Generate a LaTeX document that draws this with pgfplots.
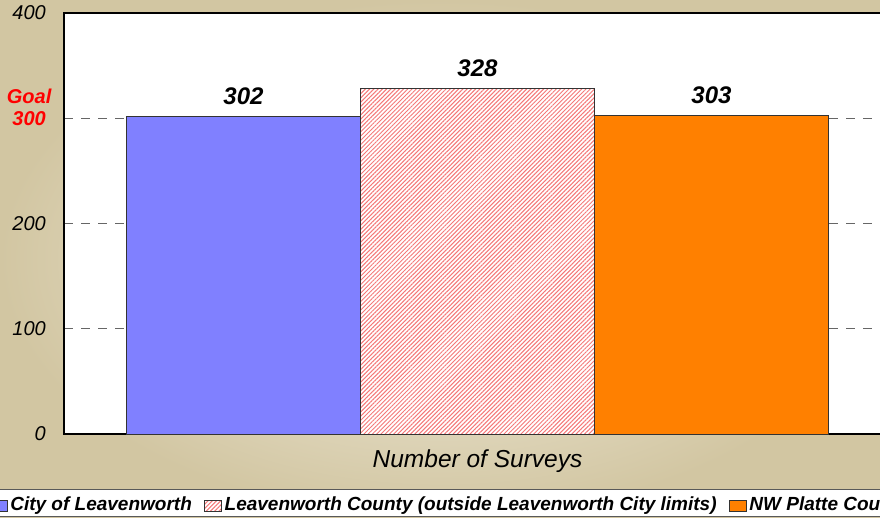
\documentclass[border=0pt]{standalone}
\usepackage{pgfplots}
\pgfplotsset{compat=1.18}
\usepackage{fontspec}
\setmainfont{Liberation Sans}
\usetikzlibrary{patterns.meta}
\definecolor{bgdark}{RGB}{210,198,162}
\definecolor{bglight}{RGB}{244,240,227}
\definecolor{barblue}{RGB}{128,128,255}
\definecolor{barorange}{RGB}{255,128,0}
\definecolor{hatchred}{RGB}{245,120,120}
\begin{document}
\begin{tikzpicture}
\useasboundingbox (0,0) rectangle (880pt,518pt);
\clip (0,0) rectangle (880pt,518pt);
\shade[inner color=bglight, outer color=bgdark] (0,0) rectangle (880pt,518pt);
\begin{axis}[
  at={(64pt,84pt)}, anchor=south west,
  width=827pt, height=421pt, scale only axis,
  xmin=0.233, xmax=3.767, ymin=0, ymax=400,
  axis background/.style={fill=white},
  axis line style={black, line width=1.6pt},
  xtick=\empty,
  ytick={0,100,200,300,400},
  yticklabels={0,100,200,{\color{red}\bfseries 300\llap{\makebox[1.668em][c]{\raisebox{1.1em}[0pt][0pt]{Goal}}}},400},
  major tick length=0pt,
  /pgf/number format/assume math mode=true,
  yticklabel style={font=\itshape\fontsize{20}{24}\selectfont, anchor=east, inner sep=0pt, xshift=-18pt},
  ymajorgrids, grid style={gray!80!black, line width=1pt, dash pattern=on 9pt off 8pt},
  xlabel={Number of Surveys},
  xlabel style={font=\itshape\fontsize{24.5}{28}\selectfont, at={(axis description cs:0.5,-0.0641)}, anchor=center},
  ybar, bar width=1,
  nodes near coords,
  nodes near coords style={font=\bfseries\itshape\fontsize{24}{28}\selectfont, anchor=south, yshift=8pt},
  legend columns=3,
  legend style={at={(axis description cs:-0.0931,-0.1314)}, anchor=north west,
    draw=gray!70!black, line width=1pt, fill=white,
    font=\bfseries\itshape\fontsize{19}{22}\selectfont,
    inner xsep=2pt, inner ysep=4pt,
    cells={anchor=base west},
    nodes={inner ysep=0pt, text height=17pt, text depth=2pt},
    /tikz/every odd column/.append style={column sep=1pt},
    /tikz/every even column/.append style={column sep=10pt}},
  clip=false,
]
\addplot[ybar, bar width=1, bar shift=0pt, fill=barblue, draw=black!80, line width=0.8pt,
  legend image code/.code={\draw[fill=barblue, draw=black!80, line width=0.8pt] (0pt,-1pt) rectangle (17pt,10pt);}]
  coordinates {(1,302)};
\addlegendentry{City of Leavenworth}
\addplot[ybar, bar width=1, bar shift=0pt, preaction={fill=white}, pattern={Lines[angle=45, distance=3pt, line width=1pt]}, pattern color=hatchred, draw=black!80, line width=0.8pt,
  legend image code/.code={\draw[preaction={fill=white}, pattern={Lines[angle=45, distance=3pt, line width=1pt]}, pattern color=hatchred, draw=black!80, line width=0.8pt] (0pt,-1pt) rectangle (17pt,10pt);}]
  coordinates {(2,328)};
\addlegendentry{Leavenworth County (outside Leavenworth City limits)}
\addplot[ybar, bar width=1, bar shift=0pt, fill=barorange, draw=black!80, line width=0.8pt,
  legend image code/.code={\draw[fill=barorange, draw=black!80, line width=0.8pt] (0pt,-1pt) rectangle (17pt,10pt);}]
  coordinates {(3,303)};
\addlegendentry{NW Platte County}
\end{axis}
\end{tikzpicture}
\end{document}
